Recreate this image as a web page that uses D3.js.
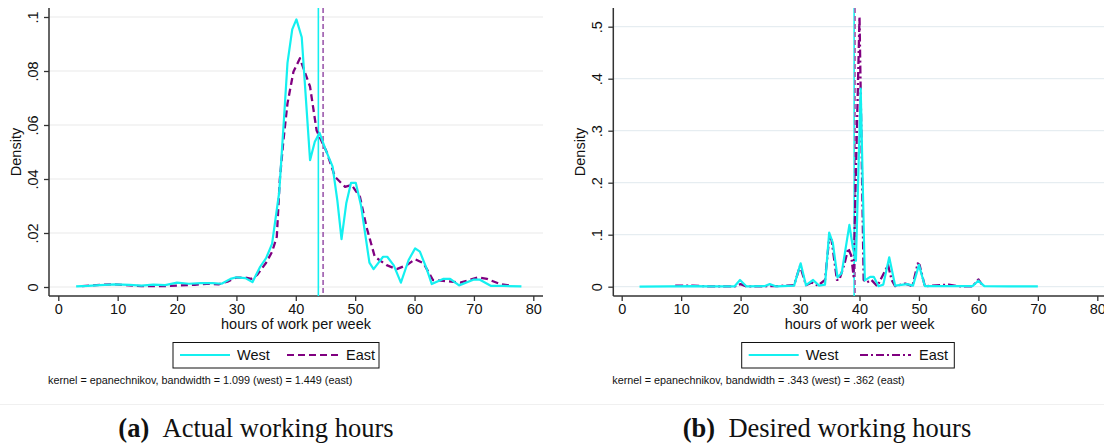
<!DOCTYPE html>
<html><head><meta charset="utf-8">
<script src="https://cdn.jsdelivr.net/npm/d3@7/dist/d3.min.js"></script>
<style>
html,body{margin:0;padding:0;background:#fff;}
svg text{font-family:"Liberation Sans",Arial,sans-serif;fill:#111;}
</style></head>
<body><svg id="c" width="1104" height="443"></svg>
<script>
// ---------- data ----------
const xTicks = [0,10,20,30,40,50,60,70,80];
const actualYTicks = [0,0.02,0.04,0.06,0.08,0.1];
const actualYLabels = ["0",".02",".04",".06",".08",".1"];
const desiredYTicks = [0,0.1,0.2,0.3,0.4,0.5];
const desiredYLabels = ["0",".1",".2",".3",".4",".5"];

const actualWest = [[3,0.0002],[5,0.0004],[7,0.0007],[9.5,0.001],[12,0.0008],[14,0.0005],[16,0.0009],[18,0.0007],[20,0.0016],[22,0.0012],[24,0.0014],[26,0.0014],[27.5,0.0012],[29,0.003],[30,0.0036],[31.5,0.0033],[32.7,0.0018],[34,0.0075],[35,0.0107],[36,0.016],[37.2,0.035],[38,0.062],[38.6,0.083],[39.4,0.0954],[40.1,0.0991],[41,0.0925],[42.4,0.047],[43.2,0.0538],[44,0.0571],[45,0.051],[46.2,0.0446],[47,0.032],[47.7,0.0177],[48.5,0.031],[49.3,0.0386],[50.1,0.0386],[51,0.03],[52.4,0.009],[53.1,0.0066],[54.7,0.0112],[55.4,0.0112],[56.5,0.008],[57.7,0.0016],[59,0.010],[60.1,0.0143],[60.9,0.0131],[62,0.007],[62.9,0.0011],[64.8,0.003],[66,0.003],[67.5,0.0006],[69.9,0.0027],[71,0.0027],[72.9,0.0004],[75,0.0004],[78,0.0002]];
const actualEast = [[4,0.0003],[7,0.0008],[9.5,0.001],[12,0.0006],[14,0.0003],[17,0.0003],[20,0.0005],[23,0.0008],[25,0.0012],[27,0.001],[28.5,0.002],[30,0.0035],[31.5,0.0035],[32.5,0.003],[33.5,0.0045],[35,0.009],[36,0.013],[36.8,0.0186],[37.3,0.0396],[37.9,0.054],[38.6,0.068],[39.6,0.0797],[40.7,0.0847],[41.5,0.0797],[42.4,0.0742],[43.5,0.058],[45.2,0.050],[46.6,0.0408],[48.3,0.0371],[49.4,0.0378],[50.8,0.0334],[51.9,0.0223],[53.3,0.0112],[55.3,0.0081],[57,0.0066],[58.7,0.0081],[60.1,0.0103],[61.5,0.0088],[63.1,0.0026],[64.8,0.0023],[67.7,0.0016],[70.7,0.0036],[72.2,0.003],[74.4,0.0011],[76.1,0.0005]];
const actualMeans = {west:43.8, east:44.6};

const desiredWest = [[3,0],[8,0.0005],[12,0.001],[15,0.0005],[19,0.0008],[19.9,0.0129],[21,0.0005],[24,0.001],[24.9,0.005],[26,0.0005],[29,0.002],[30.1,0.045],[31,0.003],[32.2,0.0129],[33.2,0.002],[34.2,0.004],[34.9,0.104],[35.5,0.085],[36.3,0.018],[37,0.026],[38.3,0.119],[38.9,0.074],[39.4,0.05],[40.2,0.381],[40.9,0.012],[41.8,0.019],[42.4,0.019],[43.2,0.001],[44,0.004],[45,0.0565],[46,0.002],[48,0.005],[49,0.002],[50,0.042],[51,0.001],[55,0.001],[59,0.001],[60,0.0115],[61,0.001],[65,0.0008],[70,0.0005]];
const desiredEast = [[9,0.002],[12,0.002],[15,0.0005],[19,0.0005],[20,0.005],[21,0.0005],[25,0.001],[26,0.001],[29,0.003],[30,0.04],[31,0.003],[32,0.008],[33,0.002],[34.2,0.013],[34.9,0.093],[35.3,0.09],[36.2,0.013],[36.6,0.013],[37.5,0.045],[38.1,0.074],[38.6,0.06],[39.0,0.02],[40.0,0.519],[40.7,0.013],[41.2,0.008],[42,0.013],[43,0.001],[44.8,0.042],[45.4,0.013],[46,0.001],[47.7,0.006],[48.9,0.001],[49.8,0.045],[50.1,0.042],[51,0.001],[55,0.004],[56.5,0.001],[59,0.0005],[60,0.014],[60.8,0.001]];
const desiredMeans = {west:39.1, east:39.25};

const seriesNames = ["West","East"];
const notes = ["kernel = epanechnikov, bandwidth = 1.099 (west) = 1.449 (east)",
               "kernel = epanechnikov, bandwidth = .343 (west) = .362 (east)"];
const captionTags = ["(a)","(b)"];
const captionTexts = ["Actual working hours","Desired working hours"];

// ---------- drawing ----------
const svg = d3.select("#c");
const CYAN = "#14f0f0", PURPLE = "#800080", MEANPURPLE = "#a66ab5";

svg.append("line").attr("x1",0).attr("x2",1104).attr("y1",404.5).attr("y2",404.5)
  .attr("stroke","#f0f0f0").attr("stroke-width",1);

function panel(cfg){
  const g = svg.append("g");
  const x = d3.scaleLinear().domain([0,80]).range([cfg.x0,cfg.x1]);
  const y = d3.scaleLinear().domain([0,cfg.yMax]).range([cfg.yb,cfg.yt]);
  // grid
  g.append("g").selectAll("line").data(cfg.yTicks).join("line")
    .attr("x1",cfg.ax).attr("x2",cfg.right).attr("y1",d=>y(d)).attr("y2",d=>y(d))
    .attr("stroke",cfg.grid).attr("stroke-width",1.2);
  // axes
  const xa = g.append("g").attr("transform",`translate(0,${cfg.ay})`)
    .call(d3.axisBottom(x).tickValues(xTicks).tickSize(5).tickSizeOuter(0));
  xa.select(".domain").remove();
  xa.selectAll(".tick line").attr("stroke","#333").attr("stroke-width",1.3);
  xa.selectAll(".tick text").attr("y",18).attr("dy","0").attr("font-size",14.5).attr("fill","#111");
  const ya = g.append("g").attr("transform",`translate(${cfg.ax},0)`)
    .call(d3.axisLeft(y).tickValues(cfg.yTicks).tickFormat((d,i)=>cfg.yLabels[i]).tickSize(5).tickSizeOuter(0));
  ya.select(".domain").remove();
  ya.selectAll(".tick line").attr("stroke","#333").attr("stroke-width",1.3);
  ya.selectAll(".tick text").attr("x",null).attr("dy",null)
    .attr("transform","translate(-11,0) rotate(-90)").attr("text-anchor","middle")
    .attr("font-size",14.5).attr("fill","#111");
  g.append("line").attr("x1",cfg.ax).attr("x2",cfg.right).attr("y1",cfg.ay).attr("y2",cfg.ay)
    .attr("stroke","#333").attr("stroke-width",1.5);
  g.append("line").attr("x1",cfg.ax).attr("x2",cfg.ax).attr("y1",cfg.top).attr("y2",cfg.ay)
    .attr("stroke","#333").attr("stroke-width",1.5);
  // titles
  g.append("text").attr("x",(cfg.ax+cfg.right)/2).attr("y",329).attr("text-anchor","middle")
    .attr("font-size",14.5).text("hours of work per week");
  g.append("text").attr("transform",`translate(${cfg.ax-28},${(cfg.top+cfg.ay)/2}) rotate(-90)`)
    .attr("text-anchor","middle").attr("font-size",14.5).text("Density");
  // mean lines
  g.append("line").attr("x1",x(cfg.means.west)).attr("x2",x(cfg.means.west))
    .attr("y1",cfg.top).attr("y2",cfg.ay).attr("stroke",CYAN).attr("stroke-width",1.6);
  g.append("line").attr("x1",x(cfg.means.east)).attr("x2",x(cfg.means.east))
    .attr("y1",cfg.top).attr("y2",cfg.ay).attr("stroke",MEANPURPLE).attr("stroke-width",1.8)
    .attr("stroke-dasharray","5,3");
  // curves
  const line = d3.line().x(d=>x(d[0])).y(d=>y(d[1]));
  g.append("path").datum(cfg.east).attr("d",line).attr("fill","none").attr("stroke",PURPLE)
    .attr("stroke-width",2.3).attr("stroke-dasharray",cfg.dash).attr("stroke-linejoin","round");
  g.append("path").datum(cfg.west).attr("d",line).attr("fill","none").attr("stroke",CYAN)
    .attr("stroke-width",2.2).attr("stroke-linejoin","round");
  // legend
  const L = cfg.leg;
  g.append("rect").attr("x",L.x).attr("y",342.5).attr("width",L.w).attr("height",25.5)
    .attr("fill","#fff").attr("stroke","#111").attr("stroke-width",1);
  g.append("line").attr("x1",L.x+7).attr("x2",L.x+57).attr("y1",355).attr("y2",355)
    .attr("stroke",CYAN).attr("stroke-width",2);
  g.append("text").attr("x",L.x+64).attr("y",360).attr("font-size",14.5).text(seriesNames[0]);
  g.append("line").attr("x1",L.x+L.e).attr("x2",L.x+L.e+51).attr("y1",355).attr("y2",355)
    .attr("stroke",PURPLE).attr("stroke-width",2).attr("stroke-dasharray",cfg.legDash);
  g.append("text").attr("x",L.x+L.e+59).attr("y",360).attr("font-size",14.5).text(seriesNames[1]);
  // note
  g.append("text").attr("x",cfg.ax-1).attr("y",384).attr("font-size",10.8).attr("fill","#222").text(cfg.note);
  // caption
  const cap = g.append("text").attr("x",cfg.capX).attr("y",437).attr("text-anchor","middle")
    .style("font-family","'Liberation Serif','DejaVu Serif',serif").attr("font-size",26.5);
  cap.append("tspan").attr("font-weight","bold").text(cfg.tag);
  cap.append("tspan").text("\u2002"+cfg.cap);
}

panel({x0:58.3,x1:533.3,yb:287,yt:17,yMax:0.1,ax:49,ay:296,top:8,right:543,
  yTicks:actualYTicks,yLabels:actualYLabels,grid:"#e9e9e9",means:actualMeans,
  west:actualWest,east:actualEast,dash:"7,4",legDash:"7,4",
  leg:{x:173,w:206,e:114},note:notes[0],capX:256,tag:captionTags[0],cap:captionTexts[0]});
panel({x0:621.7,x1:1097.3,yb:286.7,yt:26.7,yMax:0.5,ax:613.3,ay:296,top:8,right:1106,
  yTicks:desiredYTicks,yLabels:desiredYLabels,grid:"#e6edf1",means:desiredMeans,
  west:desiredWest,east:desiredEast,dash:"8,3,2,3",legDash:"8,3,2,3",
  leg:{x:741.7,w:212.6,e:118.3},note:notes[1],capX:827,tag:captionTags[1],cap:captionTexts[1]});
</script></body></html>
